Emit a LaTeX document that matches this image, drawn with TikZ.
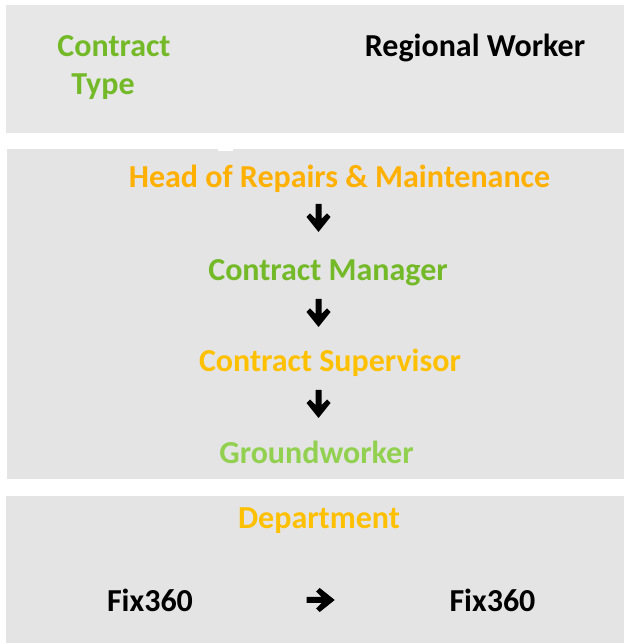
\documentclass[tikz,border=0pt]{standalone}
\usepackage{fontspec}
\setmainfont{Carlito}
\definecolor{panelA}{RGB}{231,231,231}
\definecolor{panelB}{RGB}{228,228,228}
\definecolor{greenA}{RGB}{116,185,40}
\definecolor{greenB}{RGB}{146,208,80}
\definecolor{orangeA}{RGB}{255,176,0}
\definecolor{goldA}{RGB}{255,192,0}
\tikzset{
  lbl/.style={font=\fontsize{32}{38}\selectfont\bfseries, inner sep=0pt, anchor=base},
  downarr/.pic={\fill[black] (-3,0) -- (3,0) -- (3,-15) -- (8.5,-9.5) -- (12,-13) -- (0,-28) -- (-12,-13) -- (-8.5,-9.5) -- (-3,-15) -- cycle;}
}
\begin{document}
\begin{tikzpicture}[x=1pt,y=1pt]
\useasboundingbox (0,0) rectangle (624,643);
\fill[panelA] (5.7,510.3) rectangle (624,638);
\fill[panelB] (6.7,164) rectangle (624,493.7);
\fill[white] (218,491.5) rectangle (233,493.7);
\fill[panelB] (6,0) rectangle (624,147.3);
\node[lbl, text=greenA] (ct1) at (114,586) {Contract};
\node[lbl, text=greenA] (ct2) at (103,548) {Type};
\node[lbl] (rw) at (475,586) {Regional Worker};
\node[lbl, text=orangeA] (h) at (339.5,455) {Head of Repairs \& Maintenance};
\node[lbl, text=greenA] (cm) at (328,362) {Contract Manager};
\node[lbl, text=goldA] (cs) at (330,271) {Contract Supervisor};
\node[lbl, text=greenB] (g) at (316.5,179) {Groundworker};
\node[lbl, text=goldA] (d) at (319,114) {Department};
\node[lbl] (f1) at (150,31) {Fix360};
\node[lbl] (f2) at (492.5,31) {Fix360};
\pic at (318.5,439) {downarr};
\pic at (318.5,344) {downarr};
\pic at (318.5,253) {downarr};
\pic[rotate=90] at (306.7,43) {downarr};
\end{tikzpicture}
\end{document}
